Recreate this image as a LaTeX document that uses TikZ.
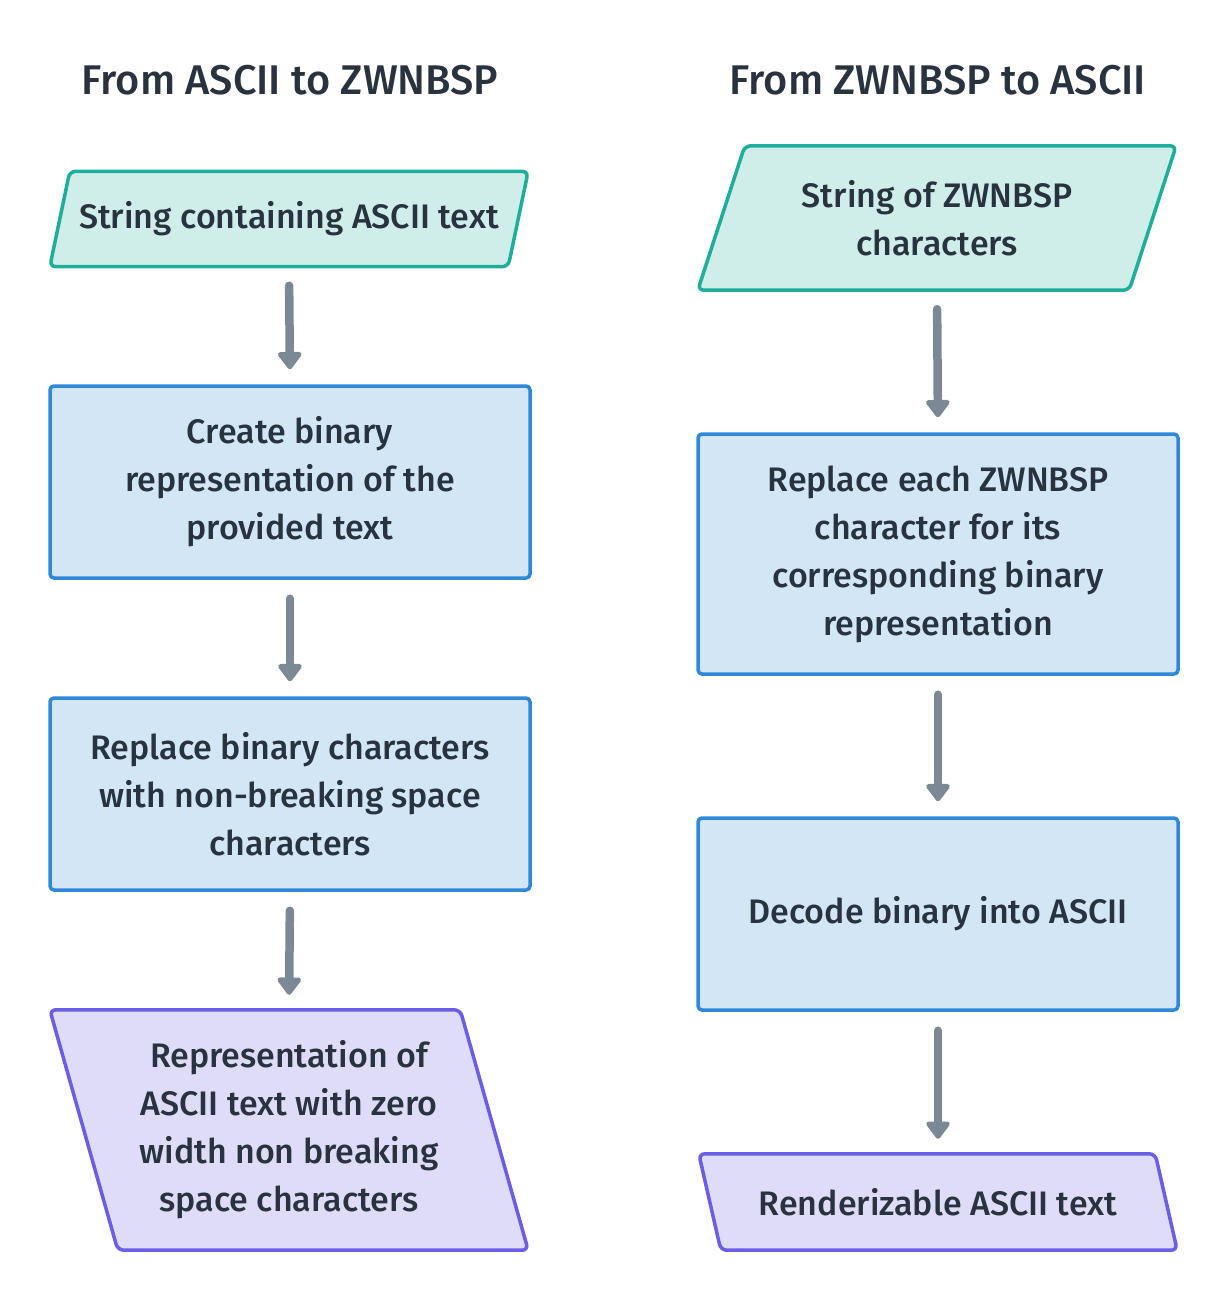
\documentclass[tikz,border=0pt]{standalone}
\usepackage{fontspec}
\setmainfont{Fira Sans}[UprightFont={* Medium}]
\usetikzlibrary{arrows.meta,backgrounds}
\definecolor{txt}{HTML}{28333F}
\definecolor{inpfill}{HTML}{CFEDE9}
\definecolor{inpdraw}{HTML}{1FAE9B}
\definecolor{boxfill}{HTML}{D3E6F6}
\definecolor{boxdraw}{HTML}{2F88DA}
\definecolor{outfill}{HTML}{DFDCFA}
\definecolor{outdraw}{HTML}{6A5EE9}
\definecolor{arr}{HTML}{7B8896}
\tikzset{
  lbl/.style={text=txt, font=\fontsize{34}{48}\selectfont, align=center, inner sep=0pt},
  ttl/.style={text=txt, font=\fontsize{41.5}{44}\selectfont, inner sep=0pt},
  stepbox/.style={lbl, draw=boxdraw, fill=boxfill, line width=3.5pt, rounded corners=4pt, minimum width=480pt},
  slot/.style={lbl, minimum width=478pt},
  inshape/.style={draw=inpdraw, fill=inpfill, line width=3.5pt, rounded corners=6pt},
  outshape/.style={draw=outdraw, fill=outfill, line width=3.5pt, rounded corners=6pt},
  flow/.style={draw=arr, line width=8.5pt, line cap=round, -{Triangle[width=27pt,length=19pt,round]}, shorten <=19pt, shorten >=15pt},
}
\begin{document}
\begin{tikzpicture}[x=1pt,y=-1pt]
\useasboundingbox (0,0) rectangle (1228,1300);
% titles
\node[ttl] (t1) at (290,80) {From ASCII to ZWNBSP};
\node[ttl] (t2) at (938,80) {From ZWNBSP to ASCII};
% left column
\node[slot, minimum height=95pt] (in1) at (289,219) {String containing ASCII text};
\node[stepbox, minimum height=192pt] (b1) at (290,482) {Create binary\\representation of the\\provided text};
\node[stepbox, minimum height=192pt] (b2) at (290,794) {Replace binary characters\\with non-breaking space\\characters};
\node[slot, minimum height=240pt] (out1) at (289,1130) {Representation of\\ASCII text with zero\\width non breaking\\space characters};
% right column
\node[slot, minimum height=144pt] (in2) at (937,218) {String of ZWNBSP\\characters};
\node[stepbox, minimum height=240pt] (b3) at (938,554) {Replace each ZWNBSP\\character for its\\corresponding binary\\representation};
\node[stepbox, minimum height=192pt] (b4) at (938,914) {Decode binary into ASCII};
\node[slot, minimum height=96pt] (out2) at (938,1202) {Renderizable ASCII text};
\begin{scope}[on background layer]
\path[inshape] ([xshift=20pt]in1.north west) -- (in1.north east) -- ([xshift=-20pt]in1.south east) -- (in1.south west) -- cycle;
\path[inshape] ([xshift=47pt]in2.north west) -- (in2.north east) -- ([xshift=-47pt]in2.south east) -- (in2.south west) -- cycle;
\path[outshape] (out1.north west) -- ([xshift=-68pt]out1.north east) -- (out1.south east) -- ([xshift=68pt]out1.south west) -- cycle;
\path[outshape] (out2.north west) -- ([xshift=-22pt]out2.north east) -- (out2.south east) -- ([xshift=22pt]out2.south west) -- cycle;
\end{scope}
% arrows
\draw[flow] (in1.south) -- (b1.north);
\draw[flow] (b1.south) -- (b2.north);
\draw[flow] (b2.south) -- (out1.north);
\draw[flow] (in2.south) -- (b3.north);
\draw[flow] (b3.south) -- (b4.north);
\draw[flow] (b4.south) -- (out2.north);
\end{tikzpicture}
\end{document}
